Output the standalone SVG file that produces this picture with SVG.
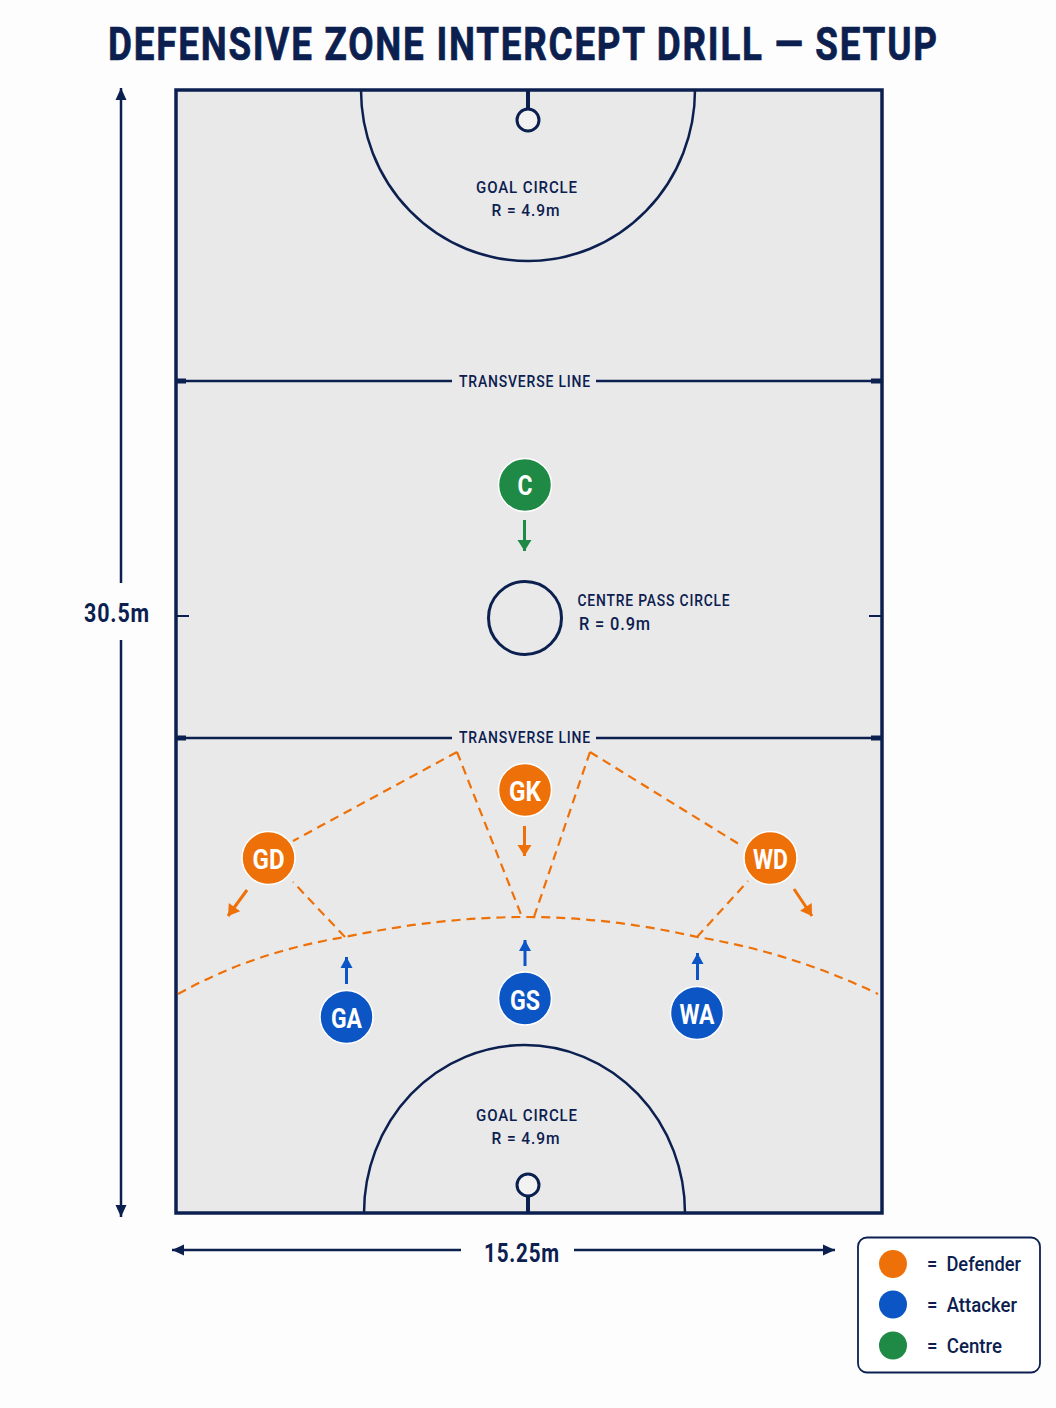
<svg xmlns="http://www.w3.org/2000/svg" width="1056" height="1408" viewBox="0 0 1056 1408">
<defs>
<marker id="an" markerUnits="userSpaceOnUse" markerWidth="14" markerHeight="14" refX="13" refY="7" orient="auto"><path d="M1 1.500L13 7L1 12.500Z" fill="#0c2050"/></marker>
<marker id="ao" markerUnits="userSpaceOnUse" markerWidth="14" markerHeight="16" refX="13" refY="8" orient="auto"><path d="M2 1L13 8L2 15Z" fill="#ee7008"/></marker>
<marker id="ab" markerUnits="userSpaceOnUse" markerWidth="14" markerHeight="16" refX="13" refY="8" orient="auto"><path d="M2 2L13 8L2 14Z" fill="#0b55c5"/></marker>
<marker id="ag" markerUnits="userSpaceOnUse" markerWidth="14" markerHeight="16" refX="13" refY="8" orient="auto"><path d="M2 1L13 8L2 15Z" fill="#1f8a45"/></marker>
</defs>
<style>
text{font-family:"Roboto","Liberation Sans",sans-serif;fill:#0c2050;text-anchor:middle}
.l{stroke:#0c2050;fill:none}
.d{stroke:#ee7008;stroke-width:2.200;stroke-dasharray:9 6;fill:none}
.m{font-size:17px;font-weight:500;letter-spacing:1px}
.n{font-weight:700;font-size:28px;fill:#fff}
.o{fill:#ee7008}.b{fill:#0b55c5}.g{fill:#1f8a45}
.p{stroke:#fff;stroke-width:1.500}
.leg{font-size:20px;font-weight:500;text-anchor:start}
</style>
<rect width="1056" height="1408" fill="#fdfdfd"/>
<text id="title" transform="translate(522.500 60) scale(.8 1)" font-size="46" font-weight="700" stroke="#0c2050" stroke-width=".7" textLength="1036" lengthAdjust="spacing">DEFENSIVE ZONE INTERCEPT DRILL — SETUP</text>
<g id="court">
<rect x="176" y="90" width="706" height="1123" fill="#e9e9e9" stroke="#0c2050" stroke-width="3.500"/>
<path class="l" stroke-width="2.500" d="M361 90A167 171 0 0 0 695 90"/>
<path class="l" stroke-width="2.500" d="M364 1213A160.500 168 0 0 1 685 1213"/>
<path class="l" stroke-width="2.500" d="M176 381H452M596 381H882M176 738H452M596 738H882"/>
<path class="l" stroke-width="5" d="M176 381H186M871 381H882M176 738H186M871 738H882"/>
<path class="l" stroke-width="2" d="M176 616H189M869 616H882"/>
<path class="l" stroke-width="4" d="M528 90V108M528 1194V1213"/>
<circle cx="528" cy="120" r="11" fill="#f2f2f2" stroke="#0c2050" stroke-width="3"/>
<circle cx="528" cy="1185" r="11" fill="#f2f2f2" stroke="#0c2050" stroke-width="3"/>
<circle cx="525" cy="618" r="36.500" class="l" stroke-width="3"/>
<text x="527" y="193" class="m" textLength="102" lengthAdjust="spacingAndGlyphs">GOAL CIRCLE</text>
<text x="526" y="216" class="m" textLength="69" lengthAdjust="spacingAndGlyphs">R = 4.9m</text>
<text x="527" y="1121" class="m" textLength="102" lengthAdjust="spacingAndGlyphs">GOAL CIRCLE</text>
<text x="526" y="1144" class="m" textLength="69" lengthAdjust="spacingAndGlyphs">R = 4.9m</text>
<text x="525" y="387" class="m" textLength="132" lengthAdjust="spacingAndGlyphs">TRANSVERSE LINE</text>
<text x="525" y="743" class="m" textLength="132" lengthAdjust="spacingAndGlyphs">TRANSVERSE LINE</text>
<text x="654" y="606" class="m" textLength="153" lengthAdjust="spacingAndGlyphs">CENTRE PASS CIRCLE</text>
<text x="615" y="630" font-size="19" font-weight="500" letter-spacing="1" textLength="72" lengthAdjust="spacingAndGlyphs">R = 0.9m</text>
</g>
<g id="connectors">
<path class="d" d="M178 994Q253 952 345 937Q440 917 525 917Q610 917 697 937Q790 952 878 994"/>
<path class="d" d="M457 752L293 841M457 752L522 917M590 752L534 917M590 752L742 846M697 937L748 881M345 937L293 882"/>
<g fill="none" stroke-width="3">
<path d="M524.500 520V551" stroke="#1f8a45" marker-end="url(#ag)"/>
<path d="M524.500 826V856" stroke="#ee7008" marker-end="url(#ao)"/>
<path d="M247 890L228 916" stroke="#ee7008" marker-end="url(#ao)"/>
<path d="M794 889L812 916" stroke="#ee7008" marker-end="url(#ao)"/>
<path d="M346.500 984V957" stroke="#0b55c5" marker-end="url(#ab)"/>
<path d="M525 966V940" stroke="#0b55c5" marker-end="url(#ab)"/>
<path d="M697.500 980V953" stroke="#0b55c5" marker-end="url(#ab)"/>
</g>
<g stroke-width="2.500" fill="none">
<path class="l" d="M121 583V88" marker-end="url(#an)"/>
<path class="l" d="M121 640V1217" marker-end="url(#an)"/>
<path class="l" d="M461 1250H172" marker-end="url(#an)"/>
<path class="l" d="M574 1250H835" marker-end="url(#an)"/>
</g>
</g>
<text x="117" y="622" font-size="25" font-weight="700" letter-spacing="1" textLength="66" lengthAdjust="spacingAndGlyphs">30.5m</text>
<text x="522" y="1262" font-size="25" font-weight="700" letter-spacing="1" textLength="76" lengthAdjust="spacingAndGlyphs">15.25m</text>
<g id="C"><circle class="g p" cx="525" cy="485" r="26.500"/><text class="n" x="525" y="495" textLength="15" lengthAdjust="spacingAndGlyphs">C</text></g>
<g id="GK"><circle class="o p" cx="525" cy="790" r="26.500"/><text class="n" x="525" y="801" textLength="32" lengthAdjust="spacingAndGlyphs">GK</text></g>
<g id="GD"><circle class="o p" cx="268.500" cy="858" r="26.500"/><text class="n" x="268.500" y="869" textLength="32" lengthAdjust="spacingAndGlyphs">GD</text></g>
<g id="WD"><circle class="o p" cx="770.500" cy="858" r="26.500"/><text class="n" x="770.500" y="869" textLength="35" lengthAdjust="spacingAndGlyphs">WD</text></g>
<g id="GA"><circle class="b p" cx="346.500" cy="1017" r="26.500"/><text class="n" x="346.500" y="1028" textLength="31" lengthAdjust="spacingAndGlyphs">GA</text></g>
<g id="GS"><circle class="b p" cx="525" cy="998.500" r="26.500"/><text class="n" x="525" y="1009.500" textLength="30" lengthAdjust="spacingAndGlyphs">GS</text></g>
<g id="WA"><circle class="b p" cx="697" cy="1013" r="26.500"/><text class="n" x="697" y="1024" textLength="35" lengthAdjust="spacingAndGlyphs">WA</text></g>
<g id="legend">
<rect x="858" y="1237.500" width="182" height="135" rx="9" fill="#fff" stroke="#0c2050" stroke-width="1.800"/>
<circle class="o" cx="893" cy="1264" r="14"/>
<circle class="b" cx="893" cy="1304.500" r="14"/>
<circle class="g" cx="893" cy="1345.500" r="14"/>
<text class="leg" x="927" y="1271" textLength="94" lengthAdjust="spacingAndGlyphs" xml:space="preserve">=  Defender</text>
<text class="leg" x="927" y="1312" textLength="90" lengthAdjust="spacingAndGlyphs" xml:space="preserve">=  Attacker</text>
<text class="leg" x="927" y="1353" textLength="75" lengthAdjust="spacingAndGlyphs" xml:space="preserve">=  Centre</text>
</g>
</svg>
